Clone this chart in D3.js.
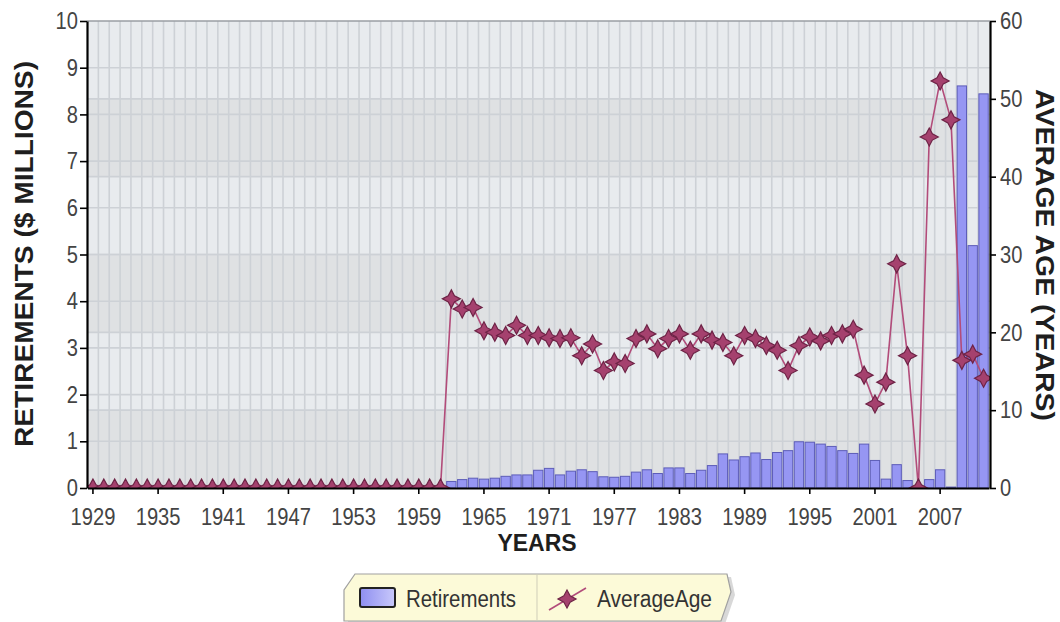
<!DOCTYPE html>
<html>
<head>
<meta charset="utf-8">
<script src="https://cdn.jsdelivr.net/npm/d3@7"></script>
<style>
  html, body { margin: 0; padding: 0; background: #ffffff; }
  svg { display: block; }
  .narrow { font-family: "Liberation Sans", Arial, sans-serif; }
  .bold { font-family: "Liberation Sans", Arial, sans-serif; font-weight: bold; }
</style>
</head>
<body>
<svg id="chart" width="1060" height="622"></svg>
<script>
// ---------------- DATA ----------------
const years = [
  1929,1930,1931,1932,1933,1934,1935,1936,1937,1938,
  1939,1940,1941,1942,1943,1944,1945,1946,1947,1948,
  1949,1950,1951,1952,1953,1954,1955,1956,1957,1958,
  1959,1960,1961,1962,1963,1964,1965,1966,1967,1968,
  1969,1970,1971,1972,1973,1974,1975,1976,1977,1978,
  1979,1980,1981,1982,1983,1984,1985,1986,1987,1988,
  1989,1990,1991,1992,1993,1994,1995,1996,1997,1998,
  1999,2000,2001,2002,2003,2004,2005,2006,2007,2008,
  2009,2010,2011
];
// Retirements ($ millions)
const retirements = [
  0,0,0,0,0,0,0,0,0,0,
  0,0,0,0,0,0,0,0,0,0,
  0,0,0,0,0,0,0,0,0,0,
  0,0,0,0.14,0.18,0.21,0.19,0.21,0.25,0.28,
  0.28,0.38,0.42,0.28,0.36,0.39,0.35,0.24,0.23,0.25,
  0.34,0.39,0.31,0.43,0.43,0.31,0.38,0.48,0.73,0.60,
  0.67,0.75,0.61,0.76,0.80,0.99,0.98,0.94,0.89,0.80,
  0.74,0.94,0.59,0.19,0.50,0.16,0,0.18,0.39,0.02,
  8.61,5.19,8.44
];
// Average age (years)
const averageAge = [
  0,0,0,0,0,0,0,0,0,0,
  0,0,0,0,0,0,0,0,0,0,
  0,0,0,0,0,0,0,0,0,0,
  0,0,0,24.3,23.0,23.2,20.2,20.0,19.6,20.9,
  19.6,19.6,19.3,19.2,19.3,17.0,18.5,15.1,16.2,16.0,
  19.2,19.8,17.9,19.2,19.8,17.7,19.8,19.0,18.7,17.0,
  19.6,19.2,18.3,17.7,15.1,18.3,19.4,18.9,19.6,19.8,
  20.4,14.5,10.8,13.6,28.8,17.0,0,45.1,52.3,47.3,
  16.4,17.2,14.1
];
const xTickYears = [1929,1935,1941,1947,1953,1959,1965,1971,1977,1983,1989,1995,2001,2007];
const leftTicks = [0,1,2,3,4,5,6,7,8,9,10];
const rightTicks = [0,10,20,30,40,50,60];
const seriesNames = ["Retirements", "AverageAge"];
const axisTitles = { left: "RETIREMENTS ($ MILLIONS)", right: "AVERAGE AGE (YEARS)", bottom: "YEARS" };

// ---------------- LAYOUT ----------------
const plot = { left: 87, right: 990, top: 21, bottom: 488 };
const svg = d3.select("#chart");

const x = d3.scaleBand().domain(years).range([plot.left + 0.5, plot.right - 1]).padding(0);
const step = x.step();
const y = d3.scaleLinear().domain([0, 10]).range([plot.bottom, plot.top]);
const y2 = d3.scaleLinear().domain([0, 60]).range([plot.bottom, plot.top]);

const defs = svg.append("defs");
defs.append("clipPath").attr("id", "plotClip")
  .append("rect")
  .attr("x", plot.left).attr("y", plot.top)
  .attr("width", plot.right - plot.left).attr("height", plot.bottom - plot.top);
const grad = defs.append("linearGradient").attr("id", "swatchGrad")
  .attr("x1", 0).attr("y1", 0).attr("x2", 1).attr("y2", 0);
grad.append("stop").attr("offset", "0%").attr("stop-color", "#8e8ef0");
grad.append("stop").attr("offset", "100%").attr("stop-color", "#c9c9fb");

// background bands (alternating per right-axis interval)
const bands = svg.append("g");
bands.selectAll("rect").data(d3.range(0, 60, 10)).join("rect")
  .attr("x", plot.left).attr("width", plot.right - plot.left)
  .attr("y", d => y2(d + 10)).attr("height", d => y2(d) - y2(d + 10))
  .attr("fill", d => (d / 10) % 2 === 0 ? "#dfe1e3" : "#e8ebee");

// vertical grid lines at category boundaries
const grid = svg.append("g").attr("stroke", "#cdd1d6").attr("stroke-width", 1.6);
grid.selectAll("line.v").data(years.slice(1)).join("line")
  .attr("class", "v")
  .attr("x1", d => x(d)).attr("x2", d => x(d))
  .attr("y1", plot.top).attr("y2", plot.bottom);
grid.selectAll("line.hl").data(leftTicks.slice(1, -1)).join("line")
  .attr("class", "hl")
  .attr("x1", plot.left).attr("x2", plot.right)
  .attr("y1", d => y(d)).attr("y2", d => y(d));
grid.selectAll("line.hr").data(rightTicks.slice(1, -1)).join("line")
  .attr("class", "hr")
  .attr("x1", plot.left).attr("x2", plot.right)
  .attr("y1", d => y2(d)).attr("y2", d => y2(d));

// top border
svg.append("line").attr("x1", plot.left).attr("x2", plot.right)
  .attr("y1", plot.top).attr("y2", plot.top)
  .attr("stroke", "#9a9ea3").attr("stroke-width", 1.5);

// ---------------- BARS ----------------
const rows = years.map((yr, i) => ({ year: yr, ret: retirements[i], age: averageAge[i] }));
const barW = step * 0.86;
svg.append("g").attr("clip-path", "url(#plotClip)")
  .selectAll("rect").data(rows.filter(d => d.ret > 0)).join("rect")
  .attr("x", d => x(d.year) + (step - barW) / 2)
  .attr("width", barW)
  .attr("y", d => y(d.ret))
  .attr("height", d => y(0) - y(d.ret))
  .attr("fill", "#9696f3")
  .attr("stroke", "#5d5db8")
  .attr("stroke-width", 1);

// ---------------- LINE + STARS ----------------
function starPath(R, r) {
  const pts = [];
  for (let k = 0; k < 8; k++) {
    const a = -Math.PI / 2 + k * Math.PI / 4;
    const rad = k % 2 === 0 ? R : r;
    pts.push([Math.cos(a) * rad, Math.sin(a) * rad]);
  }
  return "M" + pts.map(p => p[0].toFixed(2) + "," + p[1].toFixed(2)).join("L") + "Z";
}
const star = starPath(9, 4.4);
const lineGen = d3.line().x(d => x(d.year) + step / 2).y(d => y2(d.age));
const lg = svg.append("g").attr("clip-path", "url(#plotClip)");
lg.append("path").datum(rows)
  .attr("d", lineGen)
  .attr("fill", "none")
  .attr("stroke", "#b24c7a")
  .attr("stroke-width", 1.6);
lg.selectAll("path.star").data(rows).join("path")
  .attr("class", "star")
  .attr("d", star)
  .attr("transform", d => `translate(${x(d.year) + step / 2},${y2(d.age)})`)
  .attr("fill", "#a5416e")
  .attr("stroke", "#6e2346")
  .attr("stroke-width", 1.2);

// ---------------- AXES ----------------
const leftAxis = d3.axisLeft(y).tickValues(leftTicks).tickSize(7).tickSizeOuter(0).tickPadding(2);
const rightAxis = d3.axisRight(y2).tickValues(rightTicks).tickSize(6).tickSizeOuter(0).tickPadding(4);
const bottomAxis = d3.axisBottom(x).tickValues(xTickYears).tickSize(6).tickSizeOuter(0).tickPadding(14);

function styleAxis(g) {
  g.attr("font-family", null).attr("font-size", null);
  g.select(".domain").attr("stroke", "#000").attr("stroke-width", 2.2);
  g.selectAll(".tick line").attr("stroke", "#000").attr("stroke-width", 1.6);
  g.selectAll(".tick text").attr("class", "narrow").attr("fill", "#444")
    .style("font-size", "24px")
    .attr("textLength", function () { return this.textContent.length * 11.2; })
    .attr("lengthAdjust", "spacingAndGlyphs");
}
svg.append("g").attr("transform", `translate(${plot.left},0)`).call(leftAxis).call(styleAxis);
svg.append("g").attr("transform", `translate(${plot.right},0)`).call(rightAxis).call(styleAxis);
svg.append("g").attr("transform", `translate(0,${plot.bottom})`).call(bottomAxis).call(styleAxis);

// axis titles
svg.append("text").attr("class", "bold")
  .attr("transform", "translate(33,254) rotate(-90)")
  .attr("text-anchor", "middle")
  .attr("textLength", 386).attr("lengthAdjust", "spacingAndGlyphs")
  .style("font-size", "26px").attr("fill", "#1e1e1e")
  .text(axisTitles.left);
svg.append("text").attr("class", "bold")
  .attr("transform", "translate(1036,255) rotate(90)")
  .attr("text-anchor", "middle")
  .attr("textLength", 332).attr("lengthAdjust", "spacingAndGlyphs")
  .style("font-size", "26px").attr("fill", "#1e1e1e")
  .text(axisTitles.right);
svg.append("text").attr("class", "bold")
  .attr("x", 537).attr("y", 551)
  .attr("text-anchor", "middle")
  .style("font-size", "23px").attr("fill", "#1e1e1e")
  .text(axisTitles.bottom);

// ---------------- LEGEND ----------------
const leg = svg.append("g");
const legPts = [[355,574],[727,574],[731,592],[721,621],[344,621],[344,590]];
leg.append("polygon")
  .attr("points", legPts.map(p => (p[0] + 4) + "," + (p[1] + 3)).join(" "))
  .attr("fill", "#c8c8c8").attr("opacity", 0.7);
leg.append("polygon")
  .attr("points", legPts.map(p => p.join(",")).join(" "))
  .attr("fill", "#fcfad8").attr("stroke", "#a0a0a0").attr("stroke-width", 1.2);
leg.append("line").attr("x1", 537).attr("x2", 537).attr("y1", 575).attr("y2", 620)
  .attr("stroke", "#cfcdb8").attr("stroke-width", 1);
leg.append("rect").attr("x", 360).attr("y", 588).attr("width", 35).attr("height", 19)
  .attr("rx", 2)
  .attr("fill", "url(#swatchGrad)").attr("stroke", "#222").attr("stroke-width", 2);
leg.append("text").attr("class", "narrow").attr("x", 406).attr("y", 607)
  .style("font-size", "23px").attr("fill", "#333")
  .attr("textLength", 110).attr("lengthAdjust", "spacingAndGlyphs")
  .text(seriesNames[0]);
leg.append("line").attr("x1", 549).attr("y1", 610).attr("x2", 586).attr("y2", 588)
  .attr("stroke", "#b24c7a").attr("stroke-width", 1.6);
leg.append("path").attr("d", star).attr("transform", "translate(567,599)")
  .attr("fill", "#a5416e").attr("stroke", "#6e2346").attr("stroke-width", 1.2);
leg.append("text").attr("class", "narrow").attr("x", 597).attr("y", 607)
  .style("font-size", "23px").attr("fill", "#333")
  .attr("textLength", 115).attr("lengthAdjust", "spacingAndGlyphs")
  .text(seriesNames[1]);
</script>
</body>
</html>
